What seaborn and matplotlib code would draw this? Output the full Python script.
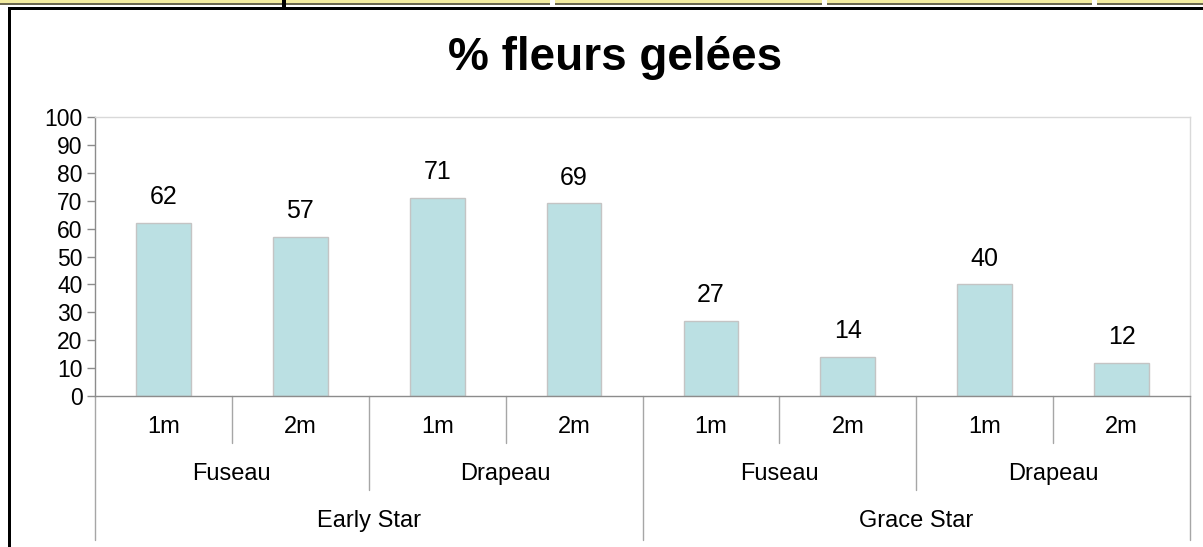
import matplotlib
matplotlib.use("Agg")
import matplotlib.pyplot as plt
from matplotlib.patches import Rectangle
from matplotlib.lines import Line2D
import pandas as pd
import seaborn as sns

varietes = ["Early Star", "Grace Star"]
formes = ["Fuseau", "Drapeau"]
distances = ["1m", "2m"]
valeurs = [62, 57, 71, 69, 27, 14, 40, 12]

rows = []
i = 0
for v in varietes:
    for f in formes:
        for d in distances:
            rows.append({"cle": f"{v}|{f}|{d}", "variete": v, "forme": f,
                         "distance": d, "pct": valeurs[i]})
            i += 1
df = pd.DataFrame(rows)

sns.set_theme(style="white")
plt.rcParams["font.family"] = ["Liberation Sans", "DejaVu Sans"]
plt.rcParams["text.color"] = "black"

W, H = 1203, 547
fig = plt.figure(figsize=(W / 100, H / 100), dpi=100)
ax = fig.add_axes([95 / W, 1 - 396 / H, (1190 - 95) / W, (396 - 117) / H])

sns.barplot(data=df, x="cle", y="pct", order=df["cle"], color="#bbe0e3",
            edgecolor="#c4c4c4", linewidth=1, width=0.40, saturation=1, ax=ax)

ax.set_xlim(-0.5, len(df) - 0.5)
ax.set_ylim(0, 100)
ax.set_yticks(range(0, 101, 10))
ax.tick_params(axis="y", labelsize=16.5, length=6, width=1, color="#8c8c8c",
               direction="out", left=True, pad=3, labelcolor="black")
ax.set_xticks([])
ax.set_xlabel("")
ax.set_ylabel("")

for s in ["left", "bottom"]:
    ax.spines[s].set_color("#8c8c8c")
    ax.spines[s].set_linewidth(1)
for s in ["top", "right"]:
    ax.spines[s].set_color("#d9d9d9")
    ax.spines[s].set_linewidth(1)

ax.bar_label(ax.containers[0], labels=[str(v) for v in valeurs],
             padding=10, fontsize=18, color="black")

# étiquettes hiérarchiques sous l'axe
trans = ax.get_xaxis_transform()
axh = 396 - 117
lev = [-47 / axh, -94 / axh, -144 / axh]
sep = "#a6a6a6"

def vline(x, y):
    ax.add_line(Line2D([x, x], [0, y], transform=trans, color=sep, lw=1,
                       clip_on=False))

n = len(df)
for k in range(n + 1):
    x = k - 0.5
    if k % 4 == 0:
        vline(x, lev[2])
    elif k % 2 == 0:
        vline(x, lev[1])
    else:
        vline(x, lev[0])

for k, d in enumerate(df["distance"]):
    ax.text(k, -31 / axh, d, transform=trans, ha="center", va="center",
            fontsize=17, color="black")
for k in range(0, n, 2):
    ax.text(k + 0.5, -78 / axh, df["forme"][k], transform=trans,
            ha="center", va="center", fontsize=17, color="black")
for k in range(0, n, 4):
    ax.text(k + 1.5, -125 / axh, df["variete"][k], transform=trans,
            ha="center", va="center", fontsize=17, color="black")

fig.text(615 / W, 1 - 58 / H, "% fleurs gelées", ha="center", va="center",
         fontsize=33, fontweight="bold", color="black")

# cadre de la capture d'écran
fig.add_artist(Rectangle((0, 1 - 3 / H), 1, 3 / H, transform=fig.transFigure,
                         facecolor="#f3eca0", edgecolor="none"))
fig.add_artist(Rectangle((0, 1 - 5 / H), 1, 2 / H, transform=fig.transFigure,
                         facecolor="#6b6850", edgecolor="none"))
for gx in [550, 822, 1092]:
    fig.add_artist(Rectangle((gx / W, 1 - 5 / H), 5 / W, 5 / H,
                             transform=fig.transFigure, facecolor="white",
                             edgecolor="none"))
fig.add_artist(Rectangle((282 / W, 1 - 7 / H), 4 / W, 7 / H,
                         transform=fig.transFigure, facecolor="black",
                         edgecolor="none"))
fig.add_artist(Rectangle((8 / W, 1 - 10 / H), 1 - 8 / W, 3 / H,
                         transform=fig.transFigure, facecolor="black",
                         edgecolor="none"))
fig.add_artist(Rectangle((8 / W, 0), 3 / W, 1 - 7 / H,
                         transform=fig.transFigure, facecolor="black",
                         edgecolor="none"))

fig.savefig("out.png", dpi=100)
